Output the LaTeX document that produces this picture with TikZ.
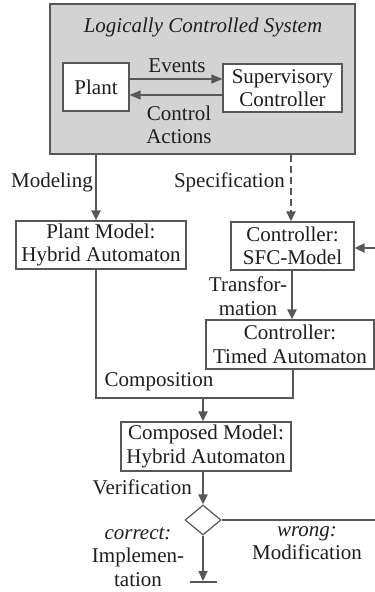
\documentclass[tikz,border=0pt]{standalone}
\usepackage{fontspec}
\setmainfont{Liberation Serif}
\usetikzlibrary{arrows.meta,shapes.geometric}
\definecolor{linegray}{HTML}{575757}
\definecolor{sysfill}{HTML}{D3D3D3}
\definecolor{inkc}{HTML}{1E1E1E}
\begin{document}
\begin{tikzpicture}[x=1pt,y=-1pt,
  txt/.style={font=\fontsize{21}{23.5}\selectfont, text=inkc},
  box/.style={txt, draw=linegray, line width=1.2pt, fill=white, inner sep=0pt, align=center},
  lbl/.style={txt, inner sep=0pt, align=center},
  conn/.style={draw=linegray, line width=2pt, -{Triangle[length=10pt,width=9pt]}},
  thinconn/.style={draw=linegray, line width=1.3pt, -{Triangle[length=11pt,width=9pt]}},
  plainline/.style={draw=linegray, line width=2pt}]
\useasboundingbox (0,0) rectangle (375,592);

% system block with plant and supervisor
\node[draw=linegray, fill=sysfill, line width=1.4pt, minimum width=305pt, minimum height=150pt, inner sep=0pt] (sys) at (202.5,79) {};
\node[lbl, font=\fontsize{21}{23.5}\selectfont\itshape] (title) at (203,27) {Logically Controlled System};
\node[box, minimum width=66pt, minimum height=48pt] (plant) at (96,87) {Plant};
\node[box, minimum width=119pt, minimum height=48pt] (sup) at (282.5,88) {Supervisory\\Controller};
\coordinate (evy) at (0,79);
\coordinate (cay) at (0,95);
\draw[thinconn] (plant.east |- evy) -- (sup.west |- evy);
\draw[thinconn] (sup.west |- cay) -- (plant.east |- cay);
\node[lbl] (events) at (177,66) {Events};
\node[lbl] (ctrlact) at (179,125) {Control\\Actions};

% models
\node[box, minimum width=170pt, minimum height=48pt] (pm) at (101,245) {Plant Model:\\Hybrid Automaton};
\node[box, minimum width=123pt, minimum height=48pt] (sfc) at (292.5,246) {Controller:\\SFC-Model};
\node[box, minimum width=168pt, minimum height=49pt] (ta) at (290,344.5) {Controller:\\Timed Automaton};
\node[box, minimum width=170pt, minimum height=49pt] (cm) at (206,446.5) {Composed Model:\\Hybrid Automaton};
\node[draw=linegray, line width=1.2pt, fill=white, diamond, minimum width=36pt, minimum height=30pt, inner sep=0pt, aspect=1.2] (dec) at (203,520) {};

% routing points
\coordinate (mx) at (96,0);
\coordinate (sx) at (291,0);
\coordinate (tx) at (292,0);
\coordinate (cx) at (293,0);
\coordinate (jy) at (0,398);
\coordinate (jx) at (203,0);
\coordinate (fb) at (375,248);
\coordinate (wr) at (375,520);
\coordinate (endp) at (203,581);

\draw[conn] (mx |- sys.south) -- (mx |- pm.north);
\draw[conn, dash pattern=on 7pt off 4pt] (sx |- sys.south) -- (sx |- sfc.north);
\draw[conn] (fb) -- (sfc.east |- fb);
\draw[conn] (tx |- sfc.south) -- (tx |- ta.north);
\draw[plainline] (mx |- pm.south) -- (mx |- jy) -- (cx |- jy) -- (cx |- ta.south);
\draw[conn] (jx |- jy) -- (jx |- cm.north);
\draw[conn] (jx |- cm.south) -- (dec.north);
\draw[plainline] (dec.east) -- (wr);
\draw[conn] (dec.south) -- (endp);
\draw[draw=linegray, line width=2.2pt] (190,582) -- (217,582);

% labels
\node[lbl, anchor=east] (modl) at (93,182) {Modeling};
\node[lbl, anchor=east] (specl) at (285,182) {Specification};
\node[lbl] (transl) at (248,296) {Transfor-\\mation};
\node[lbl] (compl) at (159,382) {Composition};
\node[lbl, anchor=east] (verl) at (192,487) {Verification};
\node[lbl] (corrl) at (138,557) {\textit{correct:}\\Implemen-\\tation};
\node[lbl] (wrongl) at (307,543) {\textit{wrong:}\\Modification};
\end{tikzpicture}
\end{document}
